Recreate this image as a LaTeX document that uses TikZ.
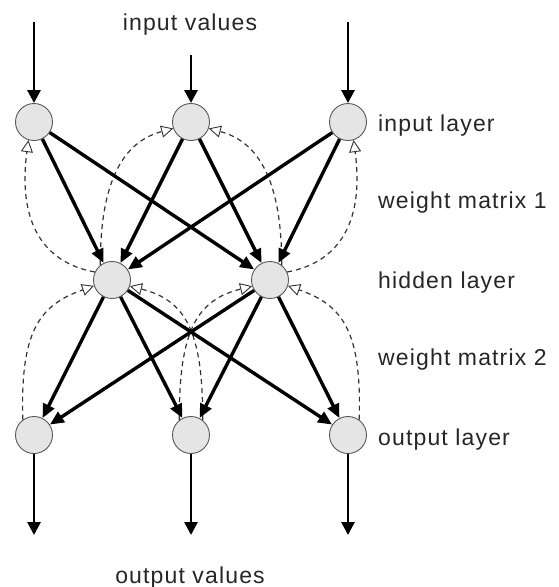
\documentclass[tikz,border=0pt]{standalone}
\usepackage{fontspec}
\setmainfont{Liberation Sans}
\newfontfamily\lblfont[LetterSpace=5]{Liberation Sans}
\usetikzlibrary{arrows.meta}
\begin{document}
\begin{tikzpicture}[x=1pt,y=-1pt,
  neuron/.style={circle,draw=black!65,fill=black!10,line width=0.9pt,minimum size=37pt,inner sep=0pt},
  conn/.style={line width=3.4pt,-{Triangle[length=14pt,width=12pt]}},
  io/.style={line width=2.8pt,-{Triangle[length=13pt,width=13pt]}},
  fb/.style={line width=1.2pt,draw=black!80,dash pattern=on 5pt off 4pt,-{Triangle[length=12pt,width=12pt,fill=white,line width=0.9pt]}},
  lbl/.style={font={\lblfont\fontsize{23}{27}\selectfont},text=black!85,inner sep=0pt}
]
\useasboundingbox (0,0) rectangle (558,587);
% neurons
\node[neuron] (I1) at (34,122) {};
\node[neuron] (I2) at (191,122) {};
\node[neuron] (I3) at (348,122) {};
\node[neuron] (H1) at (112,280) {};
\node[neuron] (H2) at (270,280) {};
\node[neuron] (O1) at (34,435) {};
\node[neuron] (O2) at (191,435) {};
\node[neuron] (O3) at (348,435) {};
% free ends
\coordinate (in1) at (34,22);
\coordinate (in2) at (191,55);
\coordinate (in3) at (348,22);
\coordinate (out1) at (34,535);
\coordinate (out2) at (191,535);
\coordinate (out3) at (348,535);
% feedback (dashed)
\draw[fb] (H1.155) .. controls (40,262) and (18,218) .. (I1.253);
\draw[fb] (H2.25) .. controls (342,262) and (364,218) .. (I3.287);
\draw[fb] (H1.128) .. controls (100,170) and (130,140) .. (I2.200);
\draw[fb] (H2.52) .. controls (282,170) and (252,140) .. (I2.340);
\draw[fb] (O1.126) .. controls (20,330) and (40,305) .. (H1.198);
\draw[fb] (O3.54) .. controls (362,330) and (342,305) .. (H2.342);
\draw[fb] (O2.52) .. controls (203,330) and (185,300) .. (H1.341);
\draw[fb] (O2.128) .. controls (179,330) and (197,300) .. (H2.199);
% input / output arrows
\draw[io] (in1) -- (I1);
\draw[io] (in2) -- (I2);
\draw[io] (in3) -- (I3);
\draw[io] (O1) -- (out1);
\draw[io] (O2) -- (out2);
\draw[io] (O3) -- (out3);
% weights 1
\draw[conn] (I1) -- (H1);
\draw[conn] (I1) -- (H2);
\draw[conn] (I2) -- (H1);
\draw[conn] (I2) -- (H2);
\draw[conn] (I3) -- (H1);
\draw[conn] (I3) -- (H2);
% weights 2
\draw[conn] (H1) -- (O1);
\draw[conn] (H1) -- (O2);
\draw[conn] (H1) -- (O3);
\draw[conn] (H2) -- (O1);
\draw[conn] (H2) -- (O2);
\draw[conn] (H2) -- (O3);
% labels
\node[lbl,anchor=base] (tin) at (190,30) {input values};
\node[lbl,anchor=base] (tout) at (190,583) {output values};
\node[lbl,anchor=base west] (l1) at (378,131) {input layer};
\node[lbl,anchor=base west] (l2) at (378,208) {weight matrix 1};
\node[lbl,anchor=base west] (l3) at (378,288) {hidden layer};
\node[lbl,anchor=base west] (l4) at (378,365) {weight matrix 2};
\node[lbl,anchor=base west] (l5) at (378,445) {output layer};
\end{tikzpicture}
\end{document}
